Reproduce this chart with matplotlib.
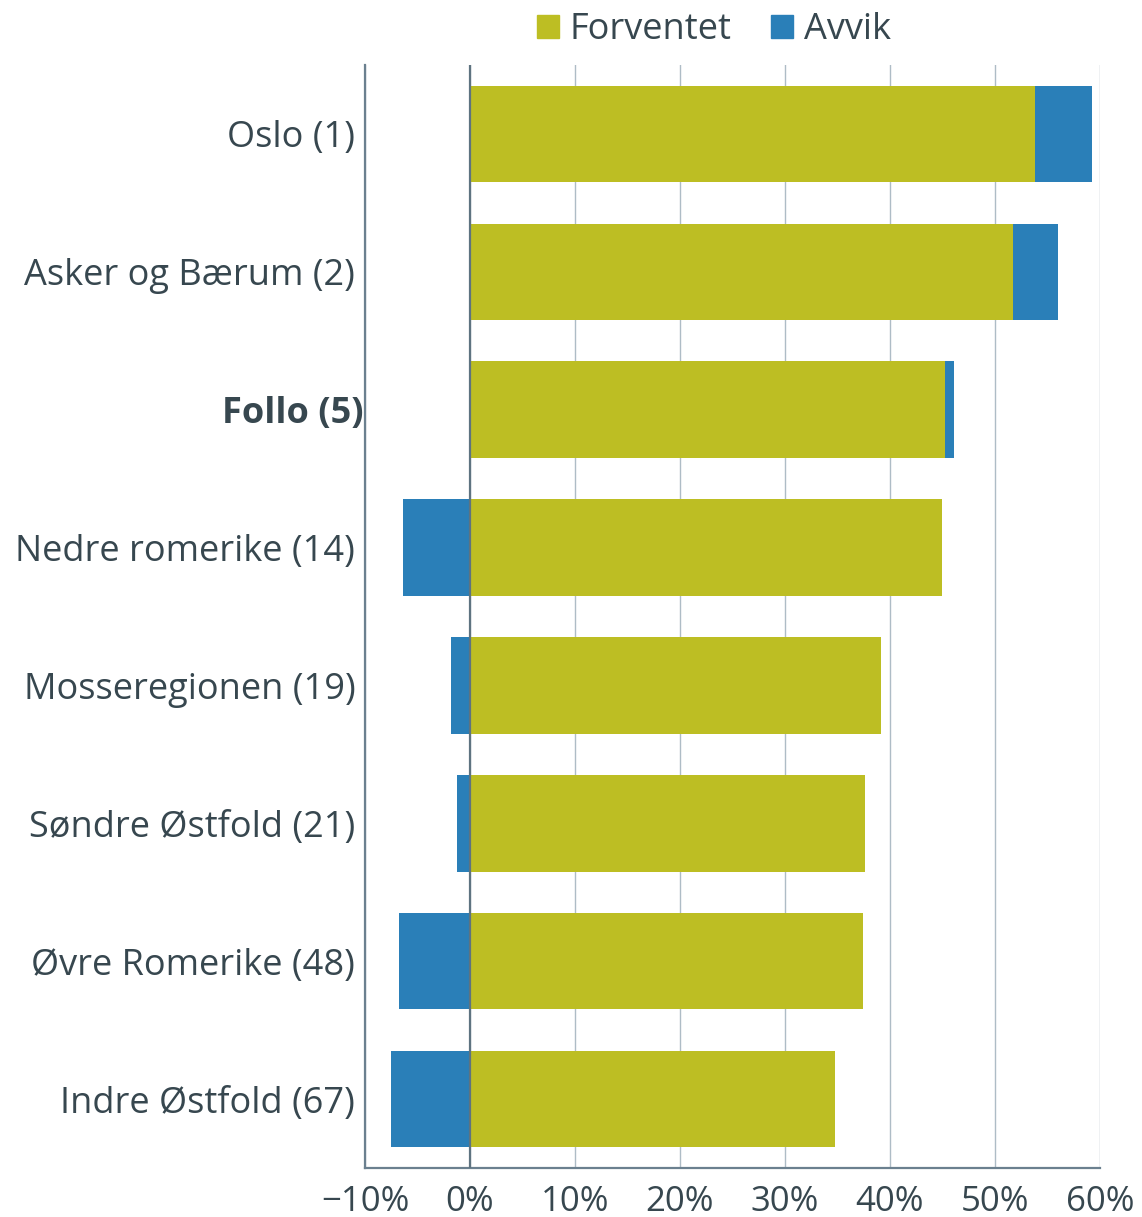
import matplotlib
matplotlib.use("Agg")
import matplotlib.pyplot as plt
import matplotlib.transforms as mtransforms
from matplotlib.patches import Patch
from matplotlib.ticker import FuncFormatter

categories = ["Oslo (1)", "Asker og Bærum (2)", "Follo (5)", "Nedre romerike (14)",
              "Mosseregionen (19)", "Søndre Østfold (21)", "Øvre Romerike (48)",
              "Indre Østfold (67)"]
forventet = [53.8, 51.7, 45.2, 45.0, 39.1, 37.6, 37.4, 34.8]
avvik = [5.4, 4.3, 0.9, -6.4, -1.8, -1.2, -6.8, -7.5]
xticks = [-10, 0, 10, 20, 30, 40, 50, 60]
highlight = "Follo (5)"

green = "#BDBE23"
blue = "#2A7FB8"
text_col = "#37474F"
grid_col = "#AEBCC6"

plt.rcParams['font.family'] = ['Open Sans', 'DejaVu Sans']

fig = plt.figure(figsize=(11.42, 12.17), dpi=100)
ax = fig.add_axes([365/1142, 1 - 1168/1217, (1100-365)/1142, (1168-65)/1217])

y = list(range(len(categories)))
h = 0.70
ax.barh(y, forventet, height=h, color=green, zorder=3, label="Forventet")
lefts = [f if a >= 0 else 0 for f, a in zip(forventet, avvik)]
ax.barh(y, avvik, left=lefts, height=h, color=blue, zorder=3, label="Avvik")

ax.set_xlim(-10, 60)
ax.set_ylim(len(categories) - 0.5, -0.5)
ax.set_xticks(xticks)
ax.xaxis.set_major_formatter(FuncFormatter(lambda v, p: ("\u2212" if v < 0 else "") + f"{abs(int(v))}%"))
ax.grid(axis='x', color=grid_col, linewidth=1, zorder=0)
ax.axvline(0, color="#5E7380", linewidth=1.6, zorder=4)

ax.set_yticks(y)
ax.set_yticklabels(categories)
ax.tick_params(axis='y', length=0, pad=7, labelsize=26, labelcolor=text_col)
ax.tick_params(axis='x', length=0, pad=12, labelsize=25, labelcolor=text_col)
for lab in ax.get_yticklabels():
    if lab.get_text() == highlight:
        lab.set_fontweight('bold')
        lab.set_transform(lab.get_transform() + mtransforms.ScaledTranslation(8/100, 0, fig.dpi_scale_trans))

for s in ['top', 'right']:
    ax.spines[s].set_visible(False)
ax.spines['left'].set_color("#6B808F")
ax.spines['left'].set_linewidth(1.6)
ax.spines['bottom'].set_color("#6B808F")
ax.spines['bottom'].set_linewidth(1.6)

handles = [Patch(color=green, label="Forventet"), Patch(color=blue, label="Avvik")]
leg = fig.legend(handles=handles, loc='center', bbox_to_anchor=(714/1142, 1 - 30/1217),
                 ncol=2, frameon=False, fontsize=26, handlelength=0.6, handleheight=0.6,
                 handletextpad=0.3, columnspacing=1.1, labelcolor=text_col,
                 borderpad=0, borderaxespad=0)

fig.savefig("out.png", dpi=100)
